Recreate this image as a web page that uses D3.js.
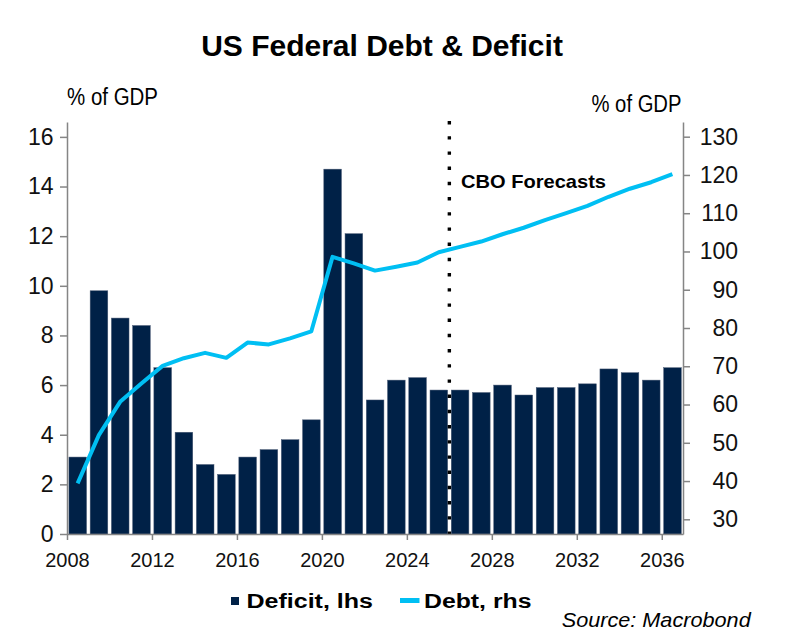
<!DOCTYPE html>
<html>
<head>
<meta charset="utf-8">
<script src="https://cdn.jsdelivr.net/npm/d3@7"></script>
<style>
  body { margin: 0; background: #fff; }
  svg { font-family: "Liberation Sans", Arial, sans-serif; }
</style>
</head>
<body>
<svg id="chart" width="792" height="642"></svg>
<script>
// fiscal years, bars drawn over the year interval
var years = [2008, 2009, 2010, 2011, 2012, 2013, 2014, 2015, 2016, 2017, 2018, 2019, 2020, 2021, 2022,
             2023, 2024, 2025, 2026, 2027, 2028, 2029, 2030, 2031, 2032, 2033, 2034, 2035, 2036];
var deficit = [3.1, 9.8, 8.7, 8.4, 6.7, 4.1, 2.8, 2.4, 3.1, 3.4, 3.8, 4.6, 14.7, 12.1, 5.4,
               6.2, 6.3, 5.8, 5.8, 5.7, 6.0, 5.6, 5.9, 5.9, 6.05, 6.65, 6.5, 6.2, 6.7];
var debt = [39.4, 52.0, 60.7, 65.5, 70.1, 72.1, 73.5, 72.2, 76.2, 75.7, 77.3, 79.1, 98.6, 96.9, 95.0,
            96.0, 97.1, 99.8, 101.2, 102.6, 104.5, 106.2, 108.2, 110.0, 111.9, 114.3, 116.4, 118.1, 120.2];
var xTicks = [2008, 2012, 2016, 2020, 2024, 2028, 2032, 2036];
var leftTicks = [0, 2, 4, 6, 8, 10, 12, 14, 16];
var rightTicks = [30, 40, 50, 60, 70, 80, 90, 100, 110, 120, 130];
var forecastStart = 2026;

var barColor = "#002147";
var lineColor = "#00bff3";
var axisColor = "#858585";

var svg = d3.select("#chart");

var x = d3.scaleLinear().domain([2008, 2037]).range([67, 683]);
var yL = d3.scaleLinear().domain([0, 16.6]).range([534, 122]);
var yR = d3.scaleLinear().domain([26.16, 133.84]).range([534, 122]);

// title
svg.append("text")
  .attr("x", 382).attr("y", 56)
  .attr("text-anchor", "middle")
  .style("font-size", "30px").style("font-weight", "bold")
  .text("US Federal Debt & Deficit");

svg.append("text")
  .attr("x", 67).attr("y", 105)
  .attr("textLength", 91).attr("lengthAdjust", "spacingAndGlyphs")
  .style("font-size", "23px")
  .text("% of GDP");

svg.append("text")
  .attr("x", 591.5).attr("y", 112)
  .attr("textLength", 90).attr("lengthAdjust", "spacingAndGlyphs")
  .style("font-size", "23px")
  .text("% of GDP");

// bars
var bw = x(2009) - x(2008);
svg.append("g").selectAll("rect")
  .data(years)
  .join("rect")
    .attr("x", function(d) { return x(d) + bw * 0.09; })
    .attr("width", bw * 0.83)
    .attr("y", function(d, i) { return yL(deficit[i]); })
    .attr("height", function(d, i) { return yL(0) - yL(deficit[i]); })
    .attr("fill", barColor)
    .attr("stroke", "#4b5b75")
    .attr("stroke-width", 0.5);

// forecast marker
svg.append("line")
  .attr("x1", x(forecastStart)).attr("x2", x(forecastStart))
  .attr("y1", 121).attr("y2", 534)
  .attr("stroke", "#000")
  .attr("stroke-width", 3.4)
  .attr("stroke-dasharray", "3.4,11.8");

svg.append("text")
  .attr("x", 461).attr("y", 188.3)
  .attr("textLength", 145).attr("lengthAdjust", "spacingAndGlyphs")
  .style("font-size", "18.5px").style("font-weight", "bold")
  .text("CBO Forecasts");

// debt line, at mid year
var line = d3.line()
  .x(function(d, i) { return x(years[i] + 0.5); })
  .y(function(d) { return yR(d); });

svg.append("path")
  .datum(debt)
  .attr("d", line)
  .attr("fill", "none")
  .attr("stroke", lineColor)
  .attr("stroke-width", 4)
  .attr("stroke-linejoin", "round");

// axes
var gx = svg.append("g")
  .attr("transform", "translate(0,534)")
  .call(d3.axisBottom(x).tickValues(xTicks).tickFormat(d3.format("d"))
    .tickSize(6).tickSizeOuter(0).tickPadding(12.5));
gx.selectAll("text").style("font-size", "20px");

var gl = svg.append("g")
  .attr("transform", "translate(67,0)")
  .call(d3.axisLeft(yL).tickValues(leftTicks).tickSize(7).tickSizeOuter(0).tickPadding(6.5));
gl.selectAll("text").style("font-size", "23px");

var gr = svg.append("g")
  .attr("transform", "translate(683,0)")
  .call(d3.axisRight(yR).tickValues(rightTicks).tickSize(7).tickSizeOuter(0));
gr.selectAll("text")
  .attr("x", 55)
  .attr("text-anchor", "end")
  .style("font-size", "23px");

svg.selectAll(".domain, .tick line")
  .attr("stroke", axisColor)
  .attr("stroke-width", 1.5);
svg.selectAll(".tick text").attr("fill", "#111");

// legend
var legend = svg.append("g");
legend.append("rect")
  .attr("x", 231).attr("y", 597)
  .attr("width", 8).attr("height", 8)
  .attr("fill", barColor);
legend.append("text")
  .attr("x", 246.5).attr("y", 607.7)
  .attr("textLength", 126.5).attr("lengthAdjust", "spacingAndGlyphs")
  .style("font-size", "20px").style("font-weight", "bold")
  .text("Deficit, lhs");
legend.append("line")
  .attr("x1", 400).attr("x2", 419.5)
  .attr("y1", 600.5).attr("y2", 600.5)
  .attr("stroke", lineColor)
  .attr("stroke-width", 5);
legend.append("text")
  .attr("x", 424).attr("y", 607.7)
  .attr("textLength", 107.5).attr("lengthAdjust", "spacingAndGlyphs")
  .style("font-size", "20px").style("font-weight", "bold")
  .text("Debt, rhs");

svg.append("text")
  .attr("x", 561.7).attr("y", 626.7)
  .attr("textLength", 189).attr("lengthAdjust", "spacingAndGlyphs")
  .style("font-size", "21px").style("font-style", "italic")
  .text("Source: Macrobond");
</script>
</body>
</html>
